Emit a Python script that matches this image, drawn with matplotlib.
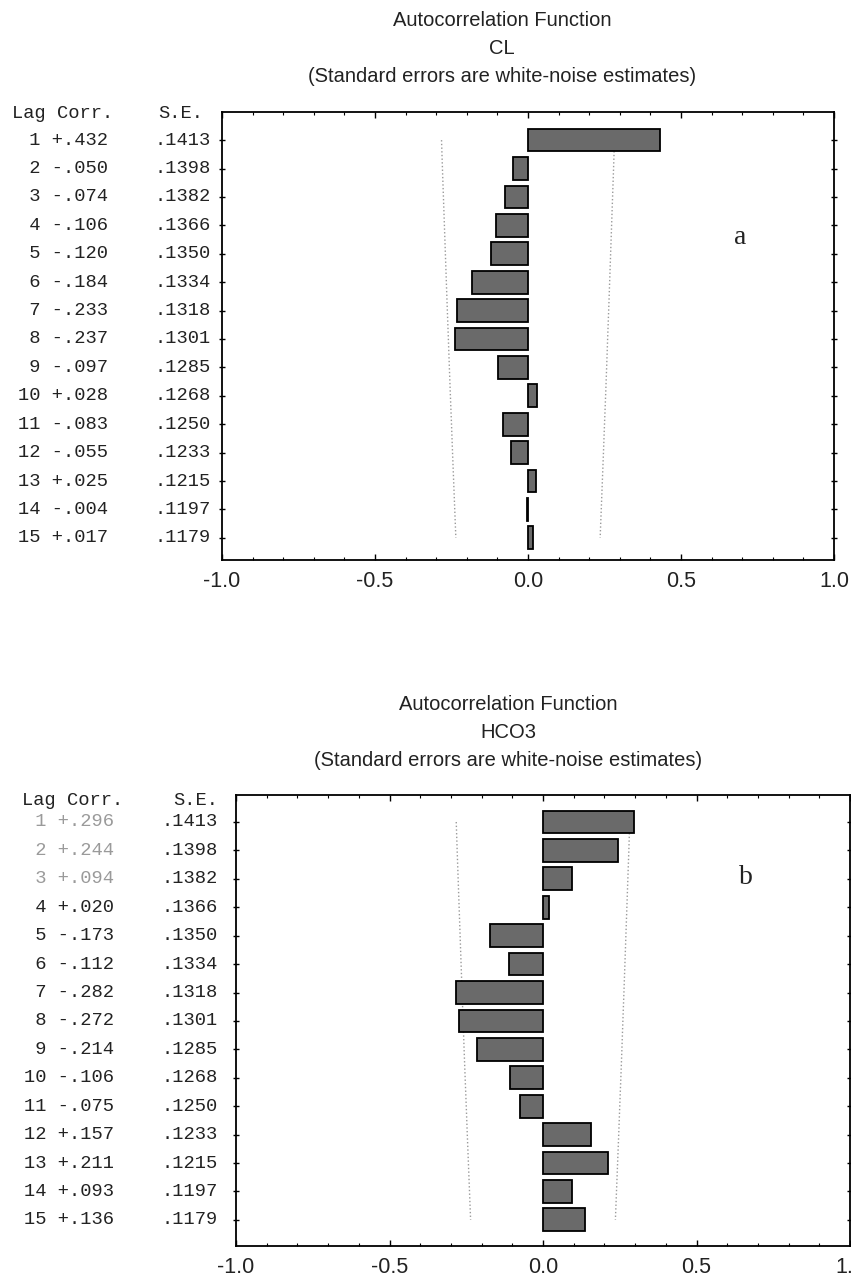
import matplotlib
matplotlib.use("Agg")
import matplotlib.pyplot as plt
import matplotlib.transforms as mtransforms
from matplotlib.ticker import MultipleLocator

LAGS = list(range(1, 16))
SE = [.1413, .1398, .1382, .1366, .1350, .1334, .1318, .1301,
      .1285, .1268, .1250, .1233, .1215, .1197, .1179]
CL_CORR = [.432, -.050, -.074, -.106, -.120, -.184, -.233, -.237,
           -.097, .028, -.083, -.055, .025, -.004, .017]
HCO3_CORR = [.296, .244, .094, .020, -.173, -.112, -.282, -.272,
             -.214, -.106, -.075, .157, .211, .093, .136]
X_TICKS = [-1.0, -0.5, 0.0, 0.5, 1.0]
X_TICK_LABELS = ["-1.0", "-0.5", "0.0", "0.5", "1.0"]

W, H = 851, 1276
SANS = "Liberation Sans"
MONO = "Liberation Mono"
SERIF = "Liberation Serif"
BAR_COLOR = "#6a6a6a"
TEXT_COLOR = "#222222"


def fmt_corr(c):
    return ("+" if c >= 0 else "-") + f"{abs(c):.3f}"[1:]


def fmt_se(s):
    return f"{s:.4f}"[1:]


def panel(fig, rect, corr, var, letter, letter_xy, title_x, title_ys,
          row_x, se_x, head_x, se_head_x, head_y, ylim, faded=0):
    ax = fig.add_axes(rect)
    ax.barh(LAGS, corr, height=0.8, color=BAR_COLOR, edgecolor="black",
            linewidth=1.3, zorder=3)
    # white-noise limits, +/- 2 S.E.
    upper = [2 * s for s in SE]
    lower = [-2 * s for s in SE]
    ax.plot(upper, LAGS, color="#9a9a9a", linestyle=":", linewidth=1.0, zorder=2)
    ax.plot(lower, LAGS, color="#9a9a9a", linestyle=":", linewidth=1.0, zorder=2)

    ax.set_xlim(-1.0, 1.0)
    ax.set_ylim(*ylim)
    ax.set_xticks(X_TICKS)
    ax.set_xticklabels(X_TICK_LABELS, fontfamily=SANS, fontsize=15.5,
                       color=TEXT_COLOR)
    ax.xaxis.set_minor_locator(MultipleLocator(0.1))
    ax.set_yticks(LAGS)
    ax.set_yticklabels([])
    ax.tick_params(axis="x", which="major", direction="in", length=4,
                   width=1, top=True, pad=8)
    ax.tick_params(axis="x", which="minor", direction="in", length=2,
                   width=0.8, top=True)
    ax.tick_params(axis="y", direction="inout", length=4, width=1,
                   right=True)
    for sp in ax.spines.values():
        sp.set_linewidth(1.3)
        sp.set_color("black")

    tr = mtransforms.blended_transform_factory(fig.transFigure, ax.transData)
    ax.text(head_x / W, head_y, "Lag Corr.", transform=tr, ha="left",
            va="center", fontfamily=MONO, fontsize=13.5, color=TEXT_COLOR)
    ax.text(se_head_x / W, head_y, "S.E.", transform=tr, ha="left",
            va="center", fontfamily=MONO, fontsize=13.5, color=TEXT_COLOR)
    for i, (lag, c, s) in enumerate(zip(LAGS, corr, SE)):
        col = "#9a9a9a" if i < faded else TEXT_COLOR
        ax.text(row_x / W, lag, f"{lag:2d} {fmt_corr(c)}", transform=tr,
                ha="left", va="center", fontfamily=MONO, fontsize=13.5,
                color=col)
        ax.text(se_x / W, lag, fmt_se(s), transform=tr, ha="right",
                va="center", fontfamily=MONO, fontsize=13.5, color=TEXT_COLOR)

    for t, y in zip(["Autocorrelation Function", var,
                     "(Standard errors are white-noise estimates)"], title_ys):
        fig.text(title_x / W, 1 - y / H, t, ha="center", va="center",
                 fontfamily=SANS, fontsize=14.5, color=TEXT_COLOR)
    fig.text(letter_xy[0] / W, 1 - letter_xy[1] / H, letter, ha="center",
             va="center", fontfamily=SERIF, fontsize=20, color=TEXT_COLOR)
    return ax


def main():
    fig = plt.figure(figsize=(W / 100, H / 100), dpi=100)
    fig.patch.set_facecolor("white")

    # panel a: CL
    panel(fig, [222 / W, 1 - 560 / H, 612 / W, 448 / H], CL_CORR, "CL", "a",
          (740, 238), 502, (21, 49, 77),
          row_x=18, se_x=211, head_x=12, se_head_x=158, head_y=0.05,
          ylim=(15.78, 0.01))

    # panel b: HCO3
    panel(fig, [236 / W, 1 - 1246 / H, 614 / W, 451 / H], HCO3_CORR, "HCO3", "b",
          (746, 878), 508, (704, 733, 761),
          row_x=24, se_x=218, head_x=22, se_head_x=173, head_y=0.23,
          ylim=(15.92, 0.05), faded=3)

    fig.savefig("out.png", dpi=100)
    plt.close(fig)


if __name__ == "__main__":
    main()
